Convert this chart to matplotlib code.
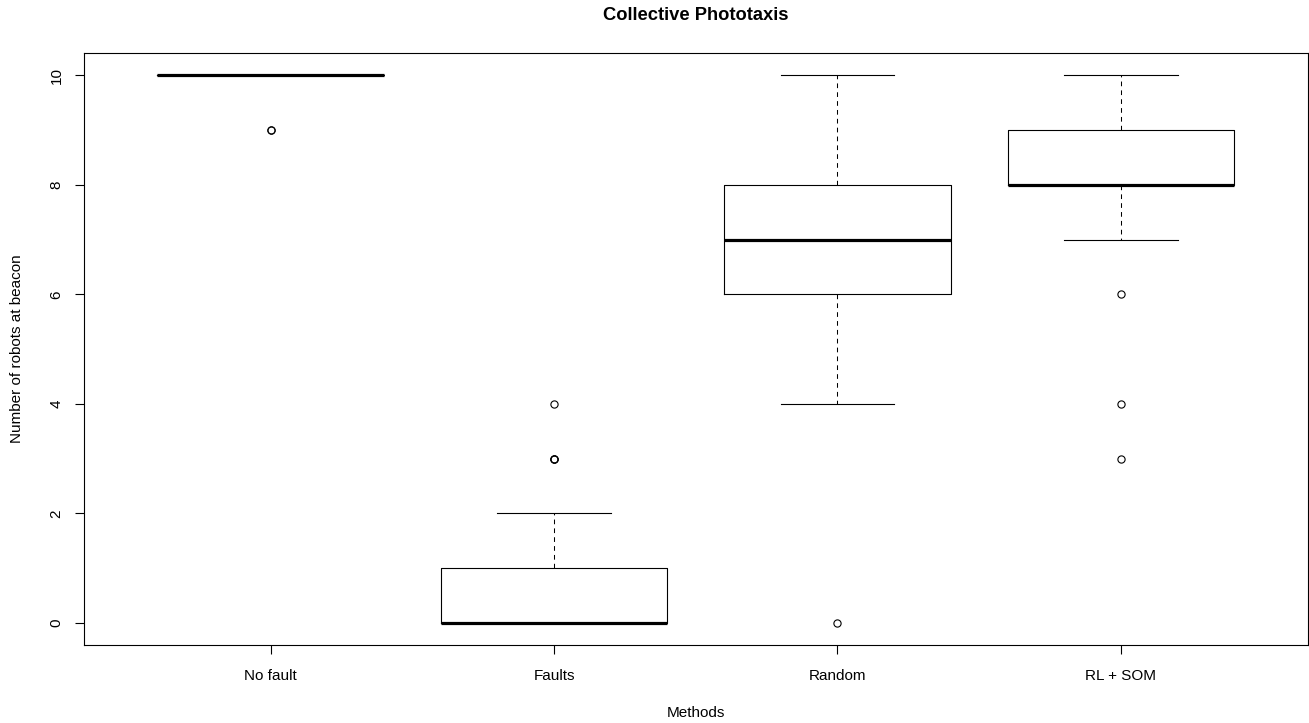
import matplotlib
matplotlib.use("Agg")
import matplotlib.pyplot as plt

# Summary statistics for each method
methods = ["No fault", "Faults", "Random", "RL + SOM"]
medians = [10, 0, 7, 8]
q1 = [10, 0, 6, 8]
q3 = [10, 1, 8, 9]
whisker_low = [10, 0, 4, 7]
whisker_high = [10, 2, 10, 10]
outliers = [[9, 9], [3, 3, 3, 4], [0], [6, 4, 3]]
y_ticks = [0, 2, 4, 6, 8, 10]

plt.rcParams["font.family"] = ["Liberation Sans", "DejaVu Sans"]

fig = plt.figure(figsize=(13.09, 7.23), dpi=100)
ax_left, ax_bottom, ax_width, ax_height = 0.0638, 0.1079, 0.9354, 0.8184
ax = fig.add_axes([ax_left, ax_bottom, ax_width, ax_height])

stats = []
for i, name in enumerate(methods):
    stats.append(dict(label=name, med=medians[i], q1=q1[i], q3=q3[i],
                      whislo=whisker_low[i], whishi=whisker_high[i],
                      fliers=outliers[i]))

positions = list(range(1, len(methods) + 1))
ax.bxp(stats, positions=positions, widths=0.8, showfliers=True,
       boxprops=dict(color="black", linewidth=0.8),
       medianprops=dict(color="black", linewidth=2.3, solid_capstyle="butt"),
       whiskerprops=dict(color="black", linewidth=0.75, linestyle=(0, (4.5, 4))),
       capprops=dict(color="black", linewidth=0.8),
       capwidths=0.4,
       flierprops=dict(marker="o", markerfacecolor="none",
                       markeredgecolor="black", markersize=5.2,
                       markeredgewidth=0.8, linestyle="none"))

ax.set_xlim(0.34, 4.66)
ax.set_ylim(-0.4, 10.4)
ax.set_xticks(positions)
ax.set_xticklabels(methods, fontsize=11)
ax.set_yticks(y_ticks)
ax.set_yticklabels([str(v) for v in y_ticks], fontsize=11, rotation=90,
                   va="center")
ax.tick_params(axis="both", length=6.5, width=0.8, color="black")
ax.tick_params(axis="x", pad=10.5)
ax.tick_params(axis="y", pad=8)
for s in ax.spines.values():
    s.set_linewidth(0.8)
    s.set_color("black")

x_mid = ax_left + ax_width / 2
fig.text(x_mid, 1 - 15.5 / 723, "Collective Phototaxis",
         ha="center", va="center", fontsize=13.2, fontweight="bold")
fig.text(x_mid, 1 - 713 / 723, "Methods",
         ha="center", va="center", fontsize=11)
fig.text(17.5 / 1309, 1 - 349 / 723, "Number of robots at beacon",
         ha="center", va="center", rotation=90, fontsize=11)

fig.savefig("out.png", dpi=100)
